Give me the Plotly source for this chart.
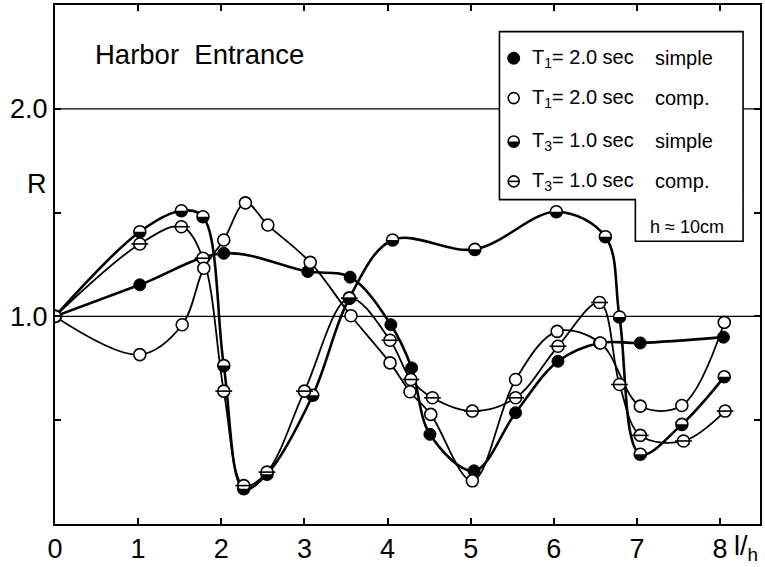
import plotly.graph_objects as go

# ---------------- data ----------------
# T1 = 2.0 sec, simple (filled circles)
x_t1_simple = [0, 1.02, 2.03, 3.04, 3.55, 4.04, 4.29, 4.51, 5.04, 5.54, 6.05, 6.55, 7.04, 8.04]
r_t1_simple = [1.0, 1.152, 1.304, 1.216, 1.189, 0.96, 0.752, 0.432, 0.256, 0.536, 0.784, 0.872, 0.872, 0.90]

# T1 = 2.0 sec, compound (open circles)
x_t1_comp = [0, 1.02, 1.53, 1.79, 2.03, 2.29, 2.56, 3.07, 3.56, 4.03, 4.27, 4.52, 5.02, 5.54, 6.04, 6.56, 7.04, 7.54, 8.05]
r_t1_comp = [1.0, 0.816, 0.96, 1.232, 1.368, 1.547, 1.44, 1.26, 1.003, 0.776, 0.637, 0.528, 0.208, 0.696, 0.928, 0.872, 0.568, 0.571, 0.971]

# T3 = 1.0 sec, simple (half-filled circles)
x_t3_simple = [0, 1.02, 1.52, 1.78, 2.03, 2.27, 2.55, 3.1, 3.54, 4.06, 5.05, 6.03, 6.62, 6.79, 7.04, 7.54, 8.05]
r_t3_simple = [1.0, 1.408, 1.509, 1.48, 0.763, 0.17, 0.24, 0.62, 1.088, 1.368, 1.323, 1.504, 1.384, 0.997, 0.336, 0.48, 0.709]

# T3 = 1.0 sec, compound (circles with a bar)
x_t3_comp = [0, 1.02, 1.52, 1.78, 2.03, 2.27, 2.55, 3.0, 3.54, 4.03, 4.28, 4.54, 5.02, 5.54, 6.05, 6.55, 6.79, 7.04, 7.56, 8.06]
r_t3_comp = [1.0, 1.349, 1.432, 1.28, 0.64, 0.185, 0.25, 0.64, 1.088, 0.885, 0.696, 0.608, 0.544, 0.608, 0.856, 1.067, 0.672, 0.427, 0.40, 0.544]

x_tickvals = [0, 1, 2, 3, 4, 5, 6, 7, 8]
x_ticktext = ["0", "1", "2", "3", "4", "5", "6", "7", "8"]
y_tickvals = [1.0, 2.0]
y_ticktext = ["1.0", "2.0"]
y_minor_tickvals = [0.5, 1.5]

legend_labels = [
    ("T<sub>1</sub>= 2.0 sec", "simple"),
    ("T<sub>1</sub>= 2.0 sec", "comp."),
    ("T<sub>3</sub>= 1.0 sec", "simple"),
    ("T<sub>3</sub>= 1.0 sec", "comp."),
]

# ---------------- layout geometry ----------------
W, H = 765, 567
ML, MR, MT, MB = 55, 3, 5, 42
PW, PH = W - ML - MR, H - MT - MB
X_MAX, Y_MAX = 8.48, 2.5
FONT = "Liberation Sans, Arial, sans-serif"
MS = 12  # marker diameter


def px(xp):
    return (xp - ML) / PW


def py(yp):
    return (H - MB - yp) / PH


k = 0.5523
r = MS / 2
HALF_PATH = (f"M {-r},0 C {-r},{-k*r} {-k*r},{-r} 0,{-r} "
             f"C {k*r},{-r} {r},{-k*r} {r},0 Z")

fig = go.Figure()

# curves first (all lines under all markers)
line_specs = [
    (x_t3_comp, r_t3_comp, 1.8),
    (x_t1_comp, r_t1_comp, 1.8),
    (x_t3_simple, r_t3_simple, 2.6),
    (x_t1_simple, r_t1_simple, 2.6),
]
for xs, ys, w in line_specs:
    fig.add_trace(go.Scatter(x=xs, y=ys, mode="lines",
                             line=dict(color="black", width=w, shape="spline", smoothing=1.0),
                             hoverinfo="skip", showlegend=False))

# markers
fig.add_trace(go.Scatter(x=x_t1_simple, y=r_t1_simple, mode="markers",
                         marker=dict(symbol="circle", size=MS, color="black",
                                     line=dict(color="black", width=1)),
                         showlegend=False))
fig.add_trace(go.Scatter(x=x_t3_simple, y=r_t3_simple, mode="markers",
                         marker=dict(symbol="circle", size=MS, color="white",
                                     line=dict(color="black", width=1.6)),
                         showlegend=False))
fig.add_trace(go.Scatter(x=x_t3_comp, y=r_t3_comp, mode="markers",
                         marker=dict(symbol="circle", size=MS, color="white",
                                     line=dict(color="black", width=1.6)),
                         showlegend=False))
fig.add_trace(go.Scatter(x=x_t3_comp, y=r_t3_comp, mode="markers",
                         marker=dict(symbol="line-ew", size=MS,
                                     line=dict(color="black", width=1.6)),
                         showlegend=False))
fig.add_trace(go.Scatter(x=x_t1_comp, y=r_t1_comp, mode="markers",
                         marker=dict(symbol="circle", size=MS, color="white",
                                     line=dict(color="black", width=1.6)),
                         showlegend=False))

shapes = []
# reference lines at R = 1.0 and 2.0
for yv in (1.0, 2.0):
    shapes.append(dict(type="line", xref="paper", yref="y", x0=0, x1=1, y0=yv, y1=yv,
                       line=dict(color="black", width=1.3), layer="below"))

# lower-half fill of the T3 simple markers (the shared start point is drawn open)
for xv, yv in list(zip(x_t3_simple, r_t3_simple))[1:]:
    shapes.append(dict(type="path", xref="x", yref="y", xsizemode="pixel", ysizemode="pixel",
                       xanchor=xv, yanchor=yv, path=HALF_PATH, fillcolor="black",
                       line=dict(width=0), layer="above"))

# legend box with notch
bx0, bx1, by0, bym, bnx, by1 = px(500.7), px(745), py(31.7), py(200), px(637), py(241.7)
shapes.append(dict(type="path", xref="paper", yref="paper",
                   path=(f"M {bx0},{by0} L {bx1},{by0} L {bx1},{by1} L {bnx},{by1} "
                         f"L {bnx},{bym} L {bx0},{bym} Z"),
                   fillcolor="white", line=dict(color="black", width=1.6), layer="above"))

# legend symbols
lx = px(515)
rows_y = [58.3, 98.3, 141.7, 181.7]
for i, ry in enumerate(rows_y):
    ly = py(ry)
    base = dict(xref="paper", yref="paper", xsizemode="pixel", ysizemode="pixel",
                xanchor=lx, yanchor=ly, layer="above")
    if i == 0:
        shapes.append(dict(type="circle", x0=-6, x1=6, y0=-6, y1=6, fillcolor="black",
                           line=dict(color="black", width=1), **base))
    else:
        shapes.append(dict(type="circle", x0=-5.5, x1=5.5, y0=-5.5, y1=5.5, fillcolor="white",
                           line=dict(color="black", width=1.6), **base))
    if i == 2:
        shapes.append(dict(type="path", path=HALF_PATH, fillcolor="black",
                           line=dict(width=0), **base))
    if i == 3:
        shapes.append(dict(type="line", x0=-6, x1=6, y0=0, y1=0,
                           line=dict(color="black", width=1.6), **base))

annotations = []
for (lab, kind), ry in zip(legend_labels, rows_y):
    annotations.append(dict(xref="paper", yref="paper", x=px(531), y=py(ry), text=lab,
                            showarrow=False, xanchor="left", yanchor="middle",
                            font=dict(family=FONT, size=20, color="black")))
    annotations.append(dict(xref="paper", yref="paper", x=px(655), y=py(ry), text=kind,
                            showarrow=False, xanchor="left", yanchor="middle",
                            font=dict(family=FONT, size=20, color="black")))
annotations.append(dict(xref="paper", yref="paper", x=px(689), y=py(227), text="h ≈ 10cm",
                        showarrow=False, xanchor="center", yanchor="middle",
                        font=dict(family=FONT, size=18, color="black")))
annotations.append(dict(xref="paper", yref="paper", x=px(93), y=py(55), text="Harbor  Entrance",
                        showarrow=False, xanchor="left", yanchor="middle",
                        font=dict(family=FONT, size=27.5, color="black")))
annotations.append(dict(xref="paper", yref="paper", x=px(37), y=py(184), text="R",
                        showarrow=False, xanchor="center", yanchor="middle",
                        font=dict(family=FONT, size=27, color="black")))
annotations.append(dict(xref="paper", yref="paper", x=px(748), y=py(549),
                        text="l/<sub>h</sub>",
                        showarrow=False, xanchor="center", yanchor="middle",
                        font=dict(family=FONT, size=27, color="black")))

fig.update_layout(
    width=W, height=H,
    margin=dict(l=ML, r=MR, t=MT, b=MB, pad=0),
    paper_bgcolor="white", plot_bgcolor="white",
    showlegend=False,
    shapes=shapes,
    annotations=annotations,
    font=dict(family=FONT, color="black"),
)
fig.update_xaxes(range=[0, X_MAX], tickvals=x_tickvals, ticktext=x_ticktext,
                 ticks="inside", ticklen=6, tickwidth=1.5, tickcolor="black",
                 showline=True, linecolor="black", linewidth=2, mirror="ticks",
                 showgrid=False, zeroline=False,
                 tickfont=dict(family=FONT, size=27, color="black"))
fig.update_yaxes(range=[0, Y_MAX], tickvals=y_tickvals, ticktext=y_ticktext,
                 ticks="inside", ticklen=6, tickwidth=1.5, tickcolor="black",
                 minor=dict(tickvals=y_minor_tickvals, ticks="inside", ticklen=6,
                            tickwidth=1.5, tickcolor="black", showgrid=False),
                 showline=True, linecolor="black", linewidth=2, mirror="ticks",
                 showgrid=False, zeroline=False,
                 tickfont=dict(family=FONT, size=27, color="black"))

fig.write_html("out.html", config={"displayModeBar": False},
               post_script="document.body.style.margin='0';document.body.style.overflow='hidden';")
